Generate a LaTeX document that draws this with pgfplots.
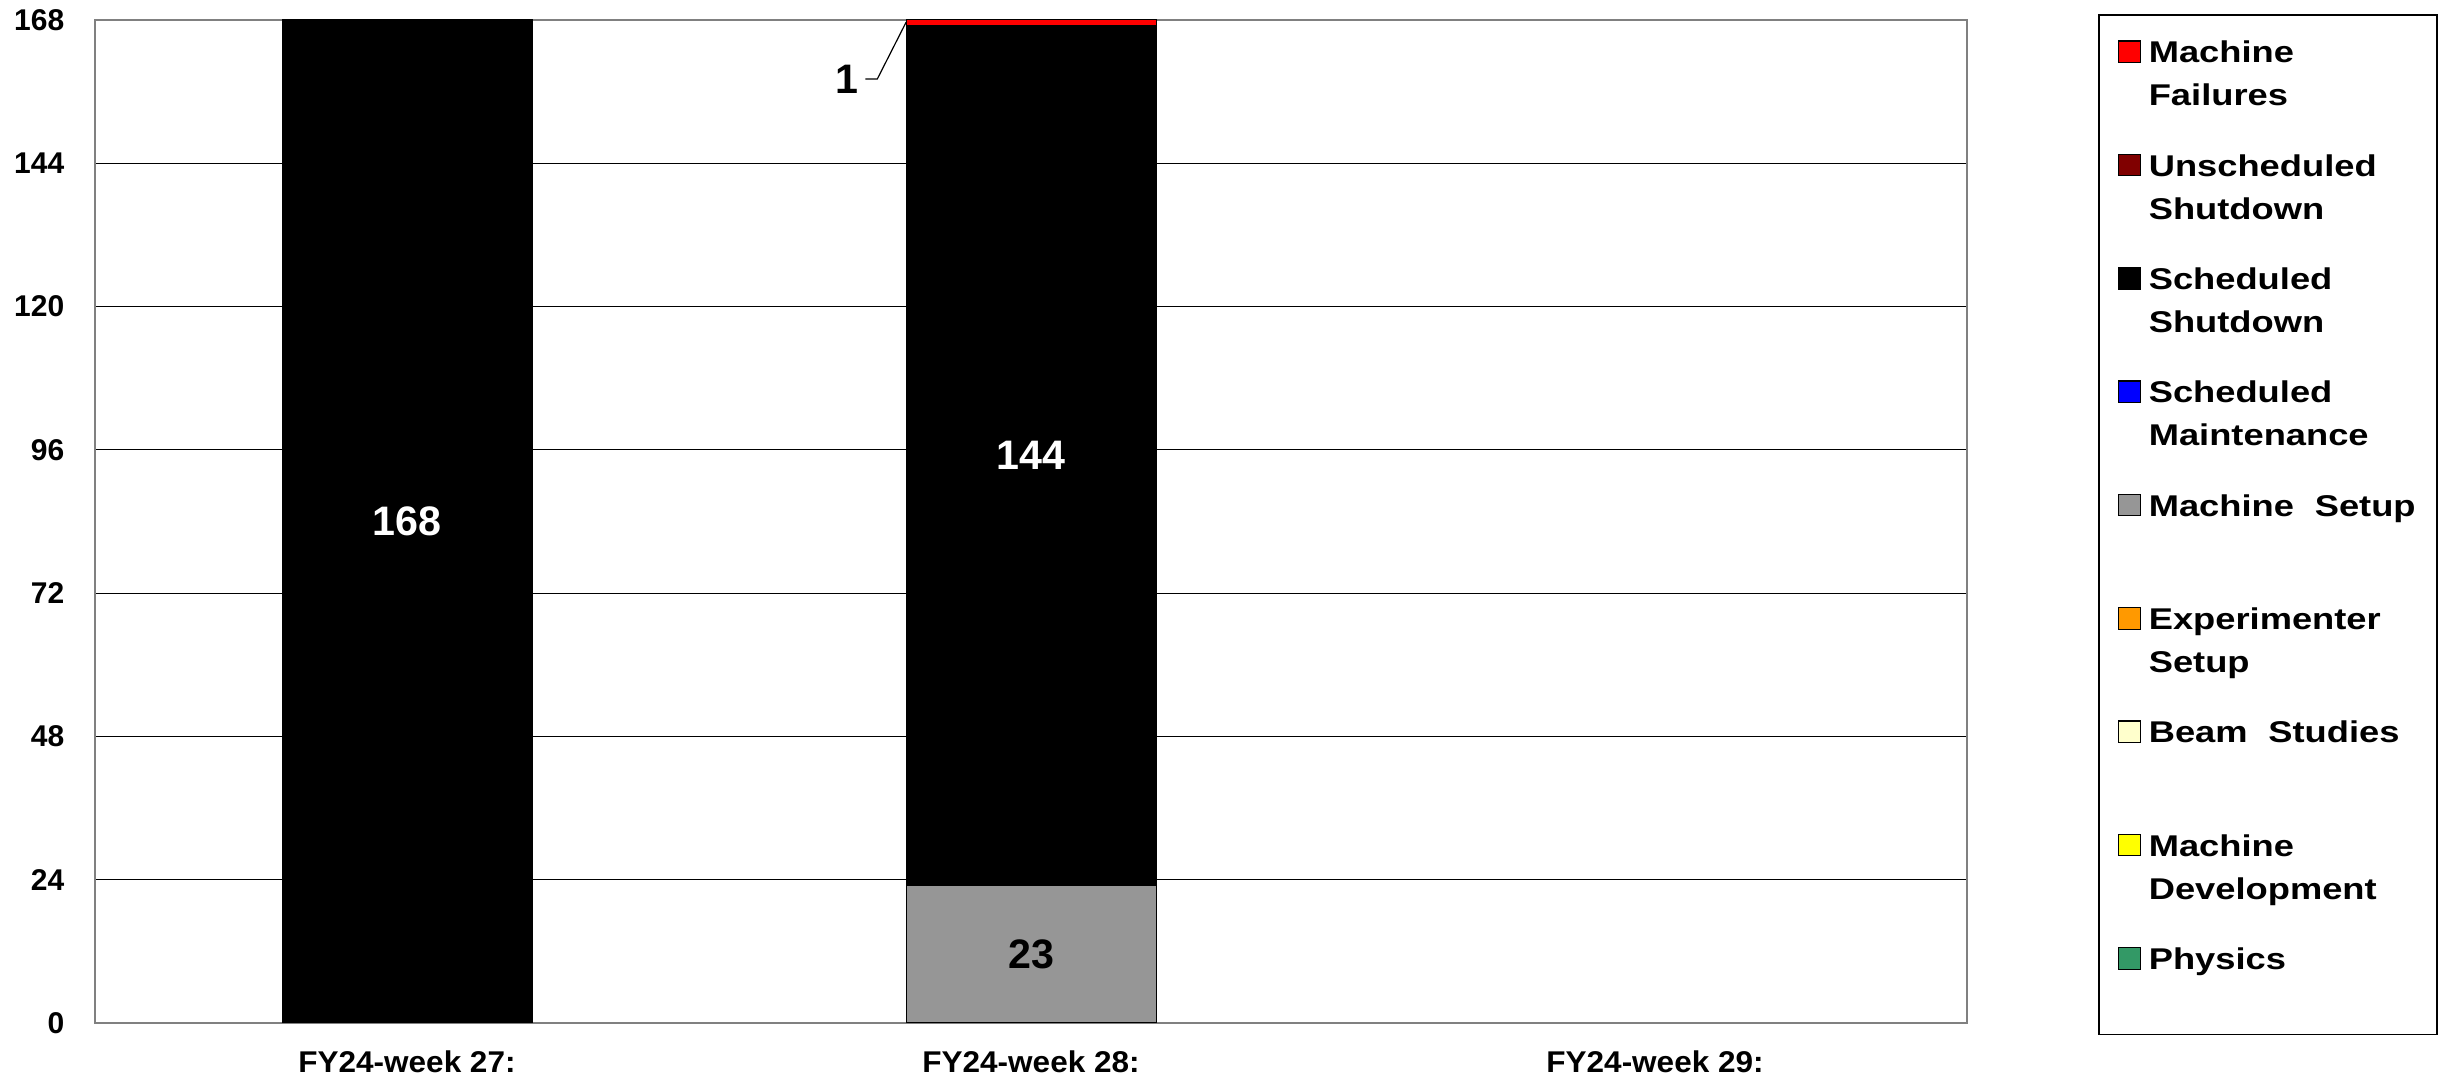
\documentclass[border=0pt]{standalone}
\usepackage{fontspec}
\setmainfont{Liberation Sans}
\newfontfamily\legfont{Liberation Sans}[FakeStretch=1.21]
\newfontfamily\xlabfont{Liberation Sans}[FakeStretch=1.05]
\usepackage{pgfplots}
\pgfplotsset{compat=1.18}

\definecolor{mfail}{RGB}{255,0,0}
\definecolor{unsched}{RGB}{128,0,0}
\definecolor{sched}{RGB}{0,0,0}
\definecolor{maint}{RGB}{0,0,255}
\definecolor{msetup}{RGB}{150,150,150}
\definecolor{esetup}{RGB}{255,153,0}
\definecolor{beam}{RGB}{255,255,204}
\definecolor{mdev}{RGB}{255,255,0}
\definecolor{physics}{RGB}{51,153,102}
\definecolor{axisgray}{RGB}{128,128,128}

\newcommand{\entry}[1]{\begin{tabular}[t]{@{}l@{}}#1\end{tabular}}

% value label in the middle of its segment (stacked nodes near coords sit there already)
\pgfplotsset{midlabel/.style={
  nodes near coords, point meta=explicit symbolic,
  every node near coord/.append style={anchor=center, inner sep=0pt,
    font=\fontsize{10.3pt}{12pt}\selectfont\bfseries, text=#1}}}

\begin{document}
\begin{tikzpicture}
\useasboundingbox (0,0) rectangle (612pt,269.75pt);
\begin{axis}[
  at={(23.75pt,14pt)}, anchor=south west,
  scale only axis, width=468pt, height=250.75pt,
  ybar stacked, bar width=62.5pt,
  enlargelimits=false,
  xmin=-0.5, xmax=2.5, ymin=0, ymax=168,
  xtick={0,1,2},
  xticklabels={FY24-week 27:, FY24-week 28:, FY24-week 29:},
  ytick={0,24,...,168},
  major tick length=0pt,
  ymajorgrids, grid style={black, line width=0.25pt},
  axis line style={axisgray, line width=0.5pt},
  /pgf/number format/assume math mode=true,
  yticklabel style={font=\fontsize{7.5pt}{9pt}\selectfont\bfseries, inner sep=0pt, xshift=-7.5pt},
  xticklabel style={font=\xlabfont\fontsize{7.5pt}{9pt}\selectfont\bfseries, inner sep=0pt, yshift=-6.75pt, anchor=north},
  reverse legend,
  legend image code/.code={\draw[#1, draw=black, line width=0.3pt] (0pt,0.1pt) rectangle (5.4pt,5.5pt);},
  legend style={at={(1.0705,1.005)}, anchor=north west, draw=black, line width=0.4pt,
    inner xsep=4.75pt, inner ysep=0pt, column sep=2pt, row sep=0pt, outer sep=0pt,
    cells={anchor=base west},
    nodes={inner sep=0pt, text height=6pt, text depth=22.33pt, text width=67.25pt,
      font=\legfont\fontsize{7.5pt}{10.75pt}\selectfont\bfseries}},
]
% bottom to top of the stack
\addplot[fill=physics, draw=black, line width=0.25pt] coordinates {(0,0) (1,0)};
\addlegendentry[text depth=16.25pt]{\entry{Physics}}
\addplot[fill=mdev, draw=black, line width=0.25pt] coordinates {(0,0) (1,0)};
\addlegendentry{\entry{Machine\\Development}}
\addplot[fill=beam, draw=black, line width=0.25pt] coordinates {(0,0) (1,0)};
\addlegendentry{\entry{Beam\hspace{5.2pt}Studies}}
\addplot[fill=esetup, draw=black, line width=0.25pt] coordinates {(0,0) (1,0)};
\addlegendentry{\entry{Experimenter\\Setup}}
\addplot[fill=msetup, draw=black, line width=0.25pt, midlabel=black] coordinates {(0,0) [] (1,23) [23]};
\addlegendentry{\entry{Machine\hspace{5.2pt}Setup}}
\addplot[fill=maint, draw=black, line width=0.25pt] coordinates {(0,0) (1,0)};
\addlegendentry{\entry{Scheduled\\Maintenance}}
\addplot[fill=sched, draw=black, line width=0.25pt, midlabel=white] coordinates {(0,168) [168] (1,144) [144]};
\addlegendentry{\entry{Scheduled\\Shutdown}}
\addplot[fill=unsched, draw=black, line width=0.25pt] coordinates {(0,0) (1,0)};
\addlegendentry{\entry{Unscheduled\\Shutdown}}
\addplot[fill=mfail, draw=black, line width=0.25pt] coordinates {(0,0) (1,1)};
\addlegendentry[text height=12pt]{\entry{Machine\\Failures}}

% the 1 hour of failures is labelled beside the bar
\draw[black, line width=0.3pt] (axis cs:0.7344,158.1) -- (axis cs:0.7536,158.1) -- (axis cs:0.8,167.66);
\node[anchor=east, inner sep=0pt, font=\fontsize{10.3pt}{12pt}\selectfont\bfseries] at (axis cs:0.7248,158.1) {1};
\end{axis}
\end{tikzpicture}
\end{document}
